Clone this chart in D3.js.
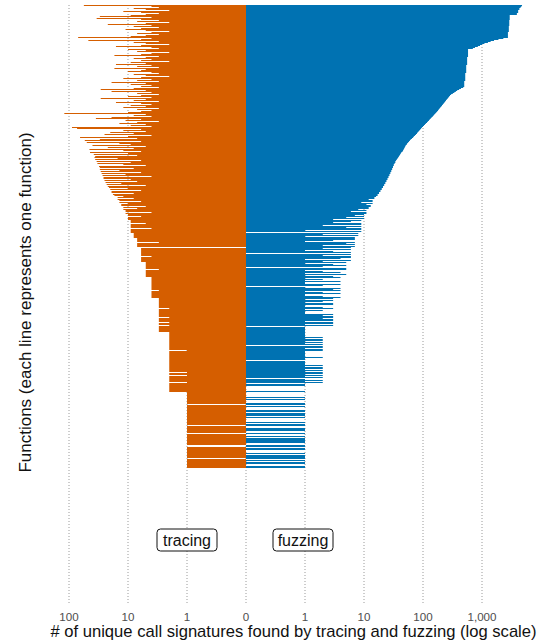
<!DOCTYPE html>
<meta charset="utf-8">
<style>
  body {
    margin: 0;
    background-color: white;
  }
  text {
    font-family: "Liberation Sans", Arial, Helvetica, sans-serif;
  }
</style>
<script src="https://d3js.org/d3.v7.min.js"></script>
<body>
<div id="my_dataviz"></div>
<script>
  // functions are sorted by the number of unique call signatures (tracing and fuzzing together)
  // top part: fuzzing dominates, one value per function (row)
  var fuzzingTop = [
    4770, 4650, 4500,
    4300, 4300, 4100, 4100, 4100, 3900, 3900,
    2950, 2950, 2950, 2950, 2950, 2900, 2900, 2900, 2900, 2900, 2900,
    2850, 2850, 2850, 2850, 2850, 2850, 2750, 2750, 2750, 2750, 2750, 2750,
    2300, 1900, 1600, 1400,
    1260, 1100, 1000, 925, 850, 760, 700,
    580, 580, 580, 580, 580, 580, 580, 580, 560, 560, 560, 560, 560, 560, 560, 560,
    540, 540, 540, 540, 540, 540, 540, 540, 520, 520, 520, 520, 520, 520, 520, 520,
    500, 500, 500, 500, 500, 500,
    480, 440, 410, 380, 360, 340, 320, 300,
    287, 278, 270, 262, 253, 245, 238, 231, 224, 217, 210, 204, 197, 191, 185, 180,
    174, 168, 162, 156, 151, 146, 140, 135, 130, 126, 121, 117, 112, 108, 104, 100,
    96, 93, 90, 87, 84, 81, 79, 76, 73, 70, 68, 65, 62, 60, 58, 56, 54, 53, 51, 50,
    49, 48, 47, 46, 45, 43, 42, 41, 40, 39,
    38, 37, 36, 35, 34, 34, 33, 32, 32, 31, 31, 30, 30, 29, 29, 28, 28, 27, 27, 26,
    26, 25, 25, 24, 24, 23, 23, 22, 22, 21, 21, 20, 20, 19, 19, 18, 18, 17, 17, 16
  ];

  var tracingTop = [
    56, 4, 3, 8, 5, 2, 12, 6, 3, 5,
    9, 30, 4, 34, 6, 3, 7, 2, 5, 22,
    4, 8, 3, 6, 11, 5, 2, 4, 7, 3,
    5, 9, 70, 4, 6, 47, 3, 8, 5, 2,
    6, 16, 4, 3, 10, 5, 7, 2, 4, 6,
    17, 3, 5, 8, 4, 6, 2, 9, 5, 16,
    4, 7, 3, 17, 5, 6, 10, 4, 3, 8,
    5, 2, 6, 12, 4, 7, 3, 19, 5, 9,
    4, 6, 3, 8, 29, 5, 19, 4, 7, 3,
    6, 10, 4, 29, 5, 8, 3, 16, 6, 4,
    9, 5, 12, 3, 7, 4, 6, 10, 120, 5,
    8, 4, 19, 35, 6, 11, 3, 7, 14, 5,
    9, 4, 89, 73, 6, 12, 5, 20, 8, 25,
    4, 10, 65, 7, 30, 54, 6, 50, 14, 9,
    40, 5, 22, 8, 45, 12, 6, 44, 10, 38,
    7, 36, 37, 15, 36, 6, 34, 9, 33, 12,
    5, 31, 30, 8, 30, 14, 29, 6, 28, 11,
    27, 4, 26, 26, 9, 25, 7, 24, 13, 23,
    5, 22, 21, 10, 20, 6, 19, 19, 8, 18,
    17, 12
  ];

  // bottom part: groups with the same number of signatures (15, 14, ... 1)
  var stepTracing = [
    [15, 8, 15],
    [14, 6, 14, 10],
    [13, 13, 5],
    [12, 7, 12],
    [11, 11, 4, 11],
    [10, 10, 6, 10, 10, 10],
    [9, 9, 9, 5, 9, 9, 9, 9, 4, 9, 9, 9, 9],
    [8, 8, 8, 8, 8],
    [7, 7, 7, 7, 3, 7, 7, 7, 7],
    [0, 6, 6, 6, 6, 6, 6, 6, 6, 4, 6, 6, 6, 6, 6],
    [5, 5, 5, 5, 5, 5, 5, 3, 5, 5, 5, 5, 5, 5, 5],
    [4, 4, 4, 4, 4, 4, 4, 4, 4, 4, 4, 4, 4, 3, 4, 4, 4, 4, 4, 4, 4],
    [3, 3, 3, 3, 3, 3, 3, 3, 3, 3, 2, 3, 3, 3, 3, 3, 3, 3, 3, 2,
     3, 3, 3, 3, 2, 3, 3, 2, 3, 3, 3, 3, 3, 3],
    [2, 2, 2, 2, 2, 2, 2, 2, 2, 2, 2, 2, 2, 2, 2, 2, 2, 2, 1, 2,
     2, 2, 2, 2, 2, 2, 2, 2, 2, 2, 2, 2, 2, 2, 2, 2, 2, 2, 2, 2,
     1, 2, 2, 1, 2, 2, 2, 2, 2, 2, 1, 2, 2, 2, 2, 2, 2, 2, 2, 2],
    [1, 1, 1, 1, 1, 1, 1, 1, 1, 1, 1, 1, 0, 1, 1, 1, 1, 1, 1, 1,
     1, 1, 1, 1, 1, 1, 1, 1, 1, 1, 1, 1, 1, 0, 1, 1, 1, 1, 1, 1,
     1, 0, 1, 1, 1, 1, 1, 1, 1, 1, 1, 1, 1, 0, 0, 1, 1, 1, 1, 1,
     1, 1, 1, 1, 1, 1, 0, 1, 1, 1, 1, 1, 1, 1, 1, 1]
  ];

  var stepFuzzing = [
    [15, 15, 12],
    [14, 14, 9, 14],
    [11, 13, 13],
    [12, 12, 8],
    [11, 6, 11, 11],
    [10, 7, 10, 5, 10, 3],
    [9, 6, 3, 9, 9, 2, 9, 5, 9, 9, 1, 9, 0],
    [8, 2, 8, 1, 7],
    [7, 7, 3, 1, 7, 5, 7, 2, 7],
    [6, 2, 6, 1, 3, 6, 0, 6, 2, 6, 6, 4, 1, 6, 2],
    [5, 1, 3, 5, 2, 0, 5, 5, 1, 2, 4, 1, 5, 1, 3],
    [4, 1, 2, 1, 4, 1, 1, 4, 2, 0, 1, 4, 3, 4, 1, 2, 4, 1, 1, 2, 4],
    [3, 1, 3, 2, 1, 3, 3, 1, 1, 2, 3, 1, 2, 1, 1, 1, 3, 2, 3, 3,
     2, 3, 3, 1, 3, 3, 1, 3, 0, 1, 1, 1, 1, 1],
    [1, 1, 1, 1, 1, 2, 1, 2, 2, 1, 2, 1, 2, 0, 2, 2, 1, 2, 2, 1,
     1, 1, 1, 1, 1, 2, 1, 1, 0, 1, 1, 1, 1, 2, 1, 2, 2, 1, 2, 1,
     2, 2, 1, 2, 1, 2, 0, 1, 2, 1, 2, 0, 1, 1, 0, 0, 0, 0, 0, 1],
    [0, 0, 0, 0, 0, 1, 0, 1, 0, 0, 0, 1, 1, 0, 1, 0, 0, 0, 1, 1,
     0, 1, 1, 1, 0, 1, 0, 0, 0, 0, 1, 0, 1, 1, 0, 0, 1, 1, 1, 0,
     0, 1, 0, 0, 1, 0, 1, 1, 1, 1, 1, 0, 0, 1, 1, 0, 1, 1, 0, 0,
     0, 1, 0, 1, 1, 1, 1, 0, 1, 0, 1, 1, 0, 0, 1, 1]
  ];

  var leftTicks = [100, 10, 1];
  var rightTicks = [1, 10, 100, 1000];
  var zeroTick = 0;
  var seriesNames = ["tracing", "fuzzing"];
  var xTitle = "# of unique call signatures found by tracing and fuzzing (log scale)";
  var yTitle = "Functions (each line represents one function)";

  var tracing = tracingTop.concat(d3.merge(stepTracing));
  var fuzzing = fuzzingTop.concat(d3.merge(stepFuzzing));
  var rows = tracing.map(function (t, i) { return {i: i, tracing: t, fuzzing: fuzzing[i]}; });

  var width = 542, height = 642;
  var panelTop = 5, panelBottom = 604;

  var svg = d3.select("#my_dataviz")
    .append("svg")
      .attr("width", width)
      .attr("height", height);

  // 0 is drawn where 0.1 would be, so each side is a plain log scale
  var zeroAt = 0.1;
  var center = 246;
  var xRight = d3.scaleLog().domain([zeroAt, 10000]).range([center, center + 5 * 59]);
  var xLeft = d3.scaleLog().domain([zeroAt, 1000]).range([center, center - 4 * 59]);
  var y = d3.scaleBand().domain(d3.range(rows.length)).range([5, 468]);

  // dotted grid
  var grid = [];
  leftTicks.forEach(function (v) { grid.push({x: xLeft(v), label: d3.format(",")(v)}); });
  grid.push({x: xRight(zeroAt), label: String(zeroTick)});
  rightTicks.forEach(function (v) { grid.push({x: xRight(v), label: d3.format(",")(v)}); });

  svg.append("g")
    .selectAll("line")
    .data(grid)
    .enter()
    .append("line")
      .attr("x1", function (d) { return d.x; })
      .attr("x2", function (d) { return d.x; })
      .attr("y1", panelTop)
      .attr("y2", panelBottom)
      .attr("stroke", "#9a9a9a")
      .attr("stroke-width", 1)
      .attr("stroke-dasharray", "1,2");

  svg.append("g")
    .selectAll("rect")
    .data(rows.filter(function (d) { return d.tracing > 0; }))
    .enter()
    .append("rect")
      .attr("x", function (d) { return xLeft(d.tracing); })
      .attr("y", function (d) { return y(d.i); })
      .attr("width", function (d) { return center - xLeft(d.tracing); })
      .attr("height", y.bandwidth())
      .attr("fill", "#D55E00");

  svg.append("g")
    .selectAll("rect")
    .data(rows.filter(function (d) { return d.fuzzing > 0; }))
    .enter()
    .append("rect")
      .attr("x", center)
      .attr("y", function (d) { return y(d.i); })
      .attr("width", function (d) { return xRight(d.fuzzing) - center; })
      .attr("height", y.bandwidth())
      .attr("fill", "#0072B2");

  // series labels
  var labels = svg.append("g")
    .selectAll("g")
    .data([{name: seriesNames[0], x: xLeft(1)}, {name: seriesNames[1], x: xRight(1) - 2}])
    .enter()
    .append("g")
      .attr("transform", function (d) { return "translate(" + d.x + ",540)"; });

  labels.append("rect")
    .attr("x", -30)
    .attr("y", -11)
    .attr("width", 60)
    .attr("height", 22)
    .attr("rx", 3.5)
    .attr("fill", "white")
    .attr("stroke", "#111")
    .attr("stroke-width", 1);

  labels.append("text")
    .attr("text-anchor", "middle")
    .attr("y", 5.5)
    .attr("font-size", "16px")
    .attr("fill", "#111")
    .text(function (d) { return d.name; });

  // tick labels
  svg.append("g")
    .selectAll("text")
    .data(grid)
    .enter()
    .append("text")
      .attr("x", function (d) { return d.x; })
      .attr("y", 621)
      .attr("text-anchor", "middle")
      .attr("font-size", "11.6px")
      .attr("fill", "#4d4d4d")
      .text(function (d) { return d.label; });

  svg.append("text")
    .attr("x", 293.5)
    .attr("y", 637)
    .attr("text-anchor", "middle")
    .attr("font-size", "16.6px")
    .attr("fill", "#111")
    .text(xTitle);

  svg.append("text")
    .attr("transform", "translate(30.5,302.5) rotate(-90)")
    .attr("text-anchor", "middle")
    .attr("font-size", "17px")
    .attr("fill", "#111")
    .text(yTitle);
</script>
</body>
